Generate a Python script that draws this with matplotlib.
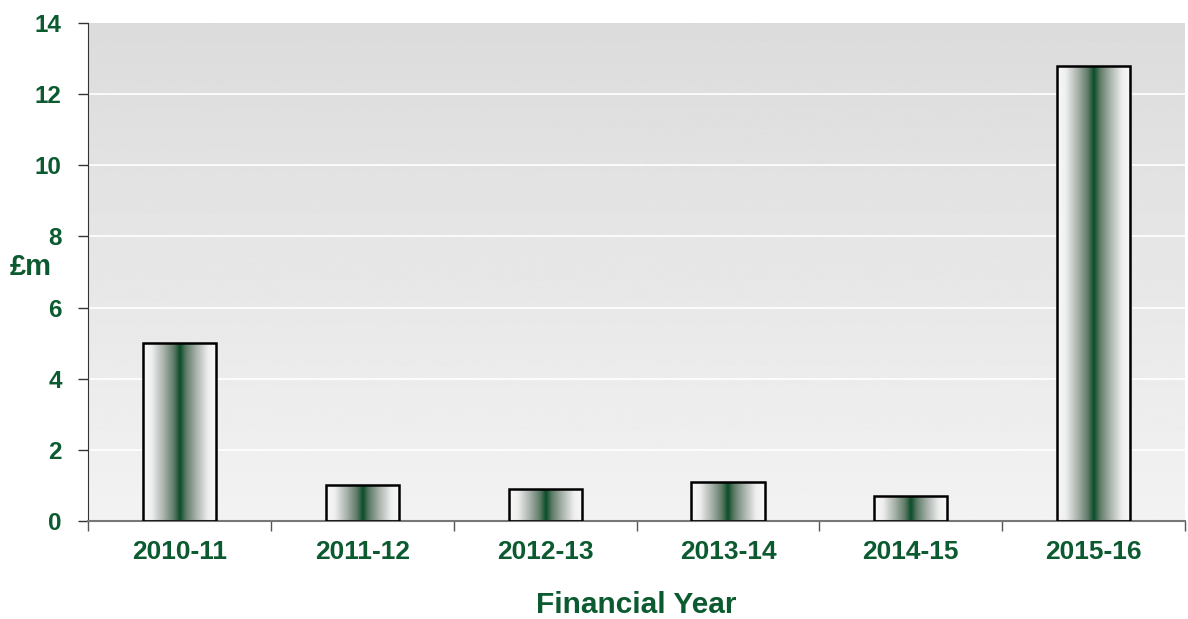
import matplotlib.pyplot as plt
import numpy as np
from matplotlib.colors import LinearSegmentedColormap

# spend per financial year, £m
years = ['2010-11', '2011-12', '2012-13', '2013-14', '2014-15', '2015-16']
spend = [5.0, 1.0, 0.9, 1.1, 0.7, 12.8]

green = '#0b5a30'
plt.rcParams['font.family'] = ['Liberation Sans', 'DejaVu Sans']
plt.rcParams['font.weight'] = 'bold'

fig = plt.figure(figsize=(11.88, 6.19), dpi=100)
ax = fig.add_axes([0.0741, 0.1583, 0.9234, 0.8045])

x = np.arange(len(years))

# grey background, darker at the top
bg = np.linspace(0.95, 0.86, 256).reshape(-1, 1)
ax.imshow(bg, cmap='gray', vmin=0, vmax=1, aspect='auto', extent=[0, 1, 0, 1],
          origin='lower', transform=ax.transAxes, zorder=0)

for yv in range(2, 14, 2):
    ax.axhline(yv, color='white', lw=1.2, zorder=1)

bars = ax.bar(x, spend, width=0.4, facecolor='none', edgecolor='black',
              linewidth=1.8, zorder=3)

# white -> green -> white shading across each bar
cmap = LinearSegmentedColormap.from_list('barshade', [
    (0.0, '#fafafa'), (0.12, '#eeeeee'), (0.28, '#a8b2ab'), (0.42, '#5d7a66'),
    (0.5, '#0b4d2a'),
    (0.58, '#5d7a66'), (0.72, '#a8b2ab'), (0.88, '#eeeeee'), (1.0, '#fafafa')])
grad = np.linspace(0, 1, 256).reshape(1, -1)
for b in bars:
    im = ax.imshow(grad, cmap=cmap, aspect='auto',
                   extent=[b.get_x(), b.get_x() + b.get_width(), 0, b.get_height()],
                   zorder=2)
    im.set_clip_path(b)

ax.set_xlim(-0.5, len(years) - 0.5)
ax.set_ylim(0, 14)

ax.set_xticks(x)
ax.set_xticklabels(years)
ax.set_xticks(np.arange(-0.5, len(years)), minor=True)
ax.tick_params(axis='x', which='major', length=0, pad=14, labelsize=19, labelcolor=green)
ax.tick_params(axis='x', which='minor', length=7, width=1, color='#555555', direction='out')
ax.set_yticks(range(0, 15, 2))
ax.tick_params(axis='y', length=7, width=1, color='#333333', labelsize=17.5, labelcolor=green, pad=12)

for s in ['top', 'right']:
    ax.spines[s].set_visible(False)
ax.spines['left'].set_color('#333333')
ax.spines['bottom'].set_color('#777777')
ax.spines['bottom'].set_linewidth(1.5)

ax.set_xlabel('Financial Year', fontsize=21.5, fontweight='bold', color=green, va='center')
ax.xaxis.set_label_coords(0.5, -0.169)
ax.set_ylabel('£m', fontsize=21, fontweight='bold', color=green, rotation=0, va='center')
ax.yaxis.set_label_coords(-0.052, 0.51)

fig.savefig('out.png', dpi=100)
